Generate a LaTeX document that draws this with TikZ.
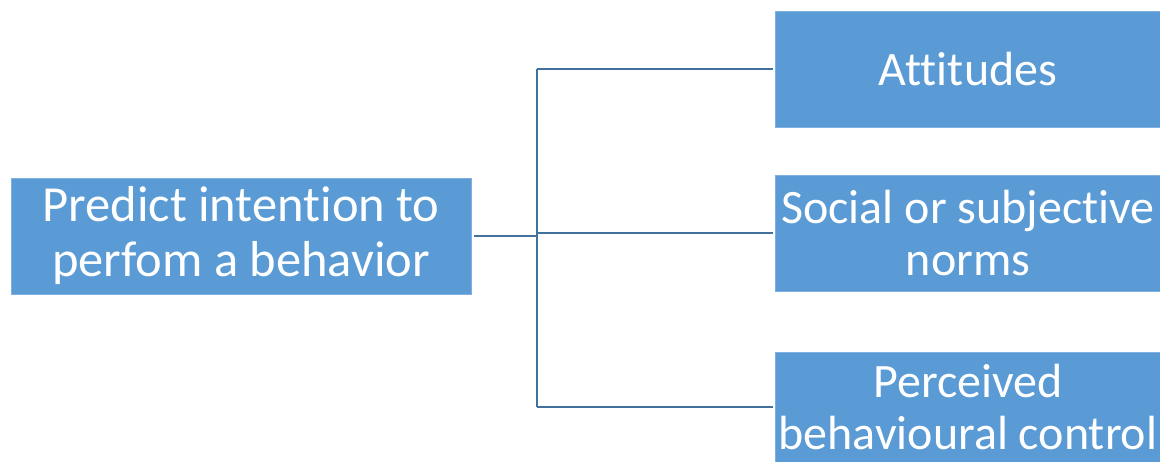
\documentclass[tikz,border=0pt]{standalone}
\usepackage{fontspec}
\setmainfont[Ligatures={NoCommon}]{Carlito}
\definecolor{boxblue}{HTML}{5B9BD5}
\definecolor{boxedge}{HTML}{7FB0E0}
\definecolor{linkblue}{HTML}{41719C}
\begin{document}
\begin{tikzpicture}[x=1pt,y=-1pt,
  block/.style={draw=boxedge,line width=0.8pt,fill=boxblue,text=white,
    align=center,inner sep=0pt,font=\fontsize{48}{52}\selectfont},
  link/.style={draw=linkblue,line width=2.8pt}]
  \useasboundingbox (0,0) rectangle (1160,461);
  % source box
  \node[block,minimum width=460pt,minimum height=116pt,
    font=\fontsize{50.5}{55}\selectfont] (src) at (241,236)
    {Predict intention to\\perfom a behavior};
  % three determinants
  \node[block,minimum width=386pt,minimum height=116pt] (att) at (968,69) {Attitudes};
  \node[block,minimum width=386pt,minimum height=116pt] (soc) at (968,233)
    {Social or subjective\\norms};
  \node[block,minimum width=386pt,minimum height=110pt] (pbc) at (968,407)
    {Perceived\\behavioural control};
  % tree connector: junction on the trunk, level with the source box
  \coordinate (trunk) at (537,0);
  \coordinate (j) at (src.east -| trunk);
  \draw[link] ([xshift=3pt]src.east) -- (j);
  \draw[link] (j |- att.west) -- (j |- pbc.west);
  \draw[link] (j |- att.west) -- ([xshift=-2pt]att.west);
  \draw[link] (j |- soc.west) -- ([xshift=-2pt]soc.west);
  \draw[link] (j |- pbc.west) -- ([xshift=-2pt]pbc.west);
\end{tikzpicture}
\end{document}
